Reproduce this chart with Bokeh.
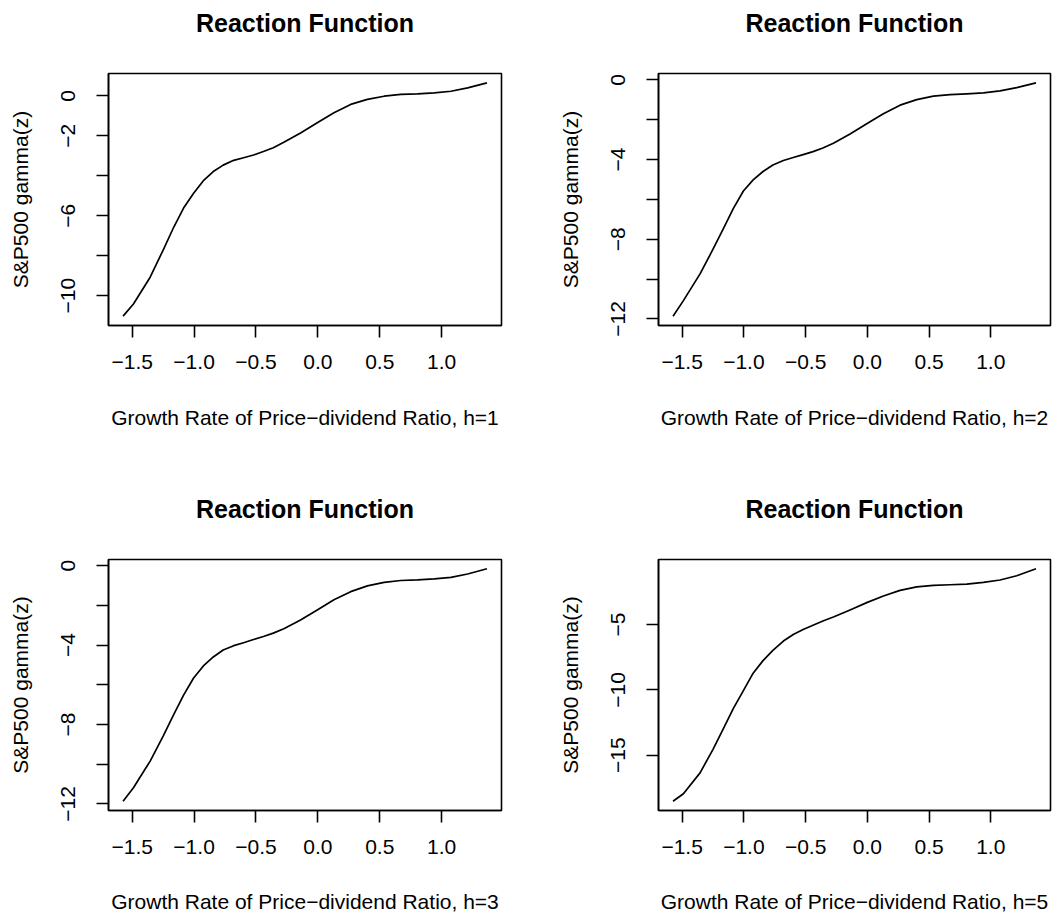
from bokeh.plotting import figure
from bokeh.layouts import column, row
from bokeh.models import FixedTicker, Range1d, LinearAxis
from bokeh.embed import file_html
from bokeh.resources import INLINE

# ---- data ----
x = [-1.574, -1.49, -1.355, -1.25, -1.165, -1.085, -1.004, -0.925, -0.845, -0.765,
     -0.68, -0.6, -0.52, -0.44, -0.36, -0.275, -0.14, -0.005, 0.13, 0.265,
     0.4, 0.535, 0.67, 0.805, 0.94, 1.075, 1.21, 1.366]

y_h1 = [-11.03, -10.42, -9.08, -7.72, -6.58, -5.62, -4.88, -4.25, -3.79, -3.47,
        -3.23, -3.10, -2.96, -2.79, -2.60, -2.33, -1.86, -1.35, -0.85, -0.43,
        -0.18, -0.02, 0.07, 0.10, 0.15, 0.23, 0.40, 0.65]
y_h2 = [-11.86, -11.08, -9.74, -8.50, -7.45, -6.45, -5.58, -5.02, -4.60, -4.27,
        -4.05, -3.90, -3.75, -3.60, -3.42, -3.18, -2.72, -2.20, -1.70, -1.27,
        -0.99, -0.82, -0.74, -0.70, -0.65, -0.55, -0.39, -0.15]
y_h3 = [-11.86, -11.18, -9.84, -8.58, -7.50, -6.52, -5.66, -5.05, -4.60, -4.25,
        -4.03, -3.88, -3.72, -3.57, -3.40, -3.18, -2.74, -2.23, -1.72, -1.31,
        -1.02, -0.84, -0.75, -0.72, -0.67, -0.59, -0.42, -0.16]
y_h5 = [-18.52, -17.95, -16.35, -14.55, -12.95, -11.42, -10.05, -8.72, -7.76, -6.98,
        -6.26, -5.76, -5.38, -5.05, -4.72, -4.42, -3.88, -3.32, -2.81, -2.38,
        -2.12, -2.00, -1.95, -1.90, -1.77, -1.59, -1.26, -0.73]

x_ticks = [-1.5, -1.0, -0.5, 0.0, 0.5, 1.0]
x_tick_labels = ["\u22121.5", "\u22121.0", "\u22120.5", "0.0", "0.5", "1.0"]

y_ticks_h1 = [0, -2, -4, -6, -8, -10]
y_labels_h1 = ["0", "\u22122", "", "\u22126", "", "\u221210"]
y_ticks_h23 = [0, -2, -4, -6, -8, -10, -12]
y_labels_h23 = ["0", "", "\u22124", "", "\u22128", "", "\u221212"]
y_ticks_h5 = [-5, -10, -15]
y_labels_h5 = ["\u22125", "\u221210", "\u221215"]

title_text = "Reaction Function"
y_axis_title = "S&P500 gamma(z)"
x_axis_titles = ["Growth Rate of Price\u2212dividend Ratio, h=1",
                 "Growth Rate of Price\u2212dividend Ratio, h=2",
                 "Growth Rate of Price\u2212dividend Ratio, h=3",
                 "Growth Rate of Price\u2212dividend Ratio, h=5"]

FONT = "Liberation Sans"


def padded(v):
    lo, hi = min(v), max(v)
    pad = 0.04 * (hi - lo)
    return Range1d(lo - pad, hi + pad)


def make(yv, xlab, yticks, ylabels, w, h, left, right, top, bottom, xlab_standoff):
    p = figure(width=w, height=h, output_backend="svg", toolbar_location=None,
               x_range=padded(x), y_range=padded(yv),
               min_border_left=left, min_border_right=right,
               min_border_top=top, min_border_bottom=bottom)
    p.line(x, yv, line_color="black", line_width=1.7, line_join="round")
    p.grid.visible = False
    p.background_fill_color = "white"
    p.border_fill_color = "white"
    p.outline_line_color = "black"
    p.outline_line_width = 1.6

    xa = p.below[0]
    ya = p.left[0]

    # title drawn as the label of an empty axis above the frame
    ta = LinearAxis(ticker=FixedTicker(ticks=[]), axis_label=title_text)
    ta.axis_line_color = None
    ta.major_tick_line_color = None
    ta.minor_tick_line_color = None
    ta.major_tick_out = 0
    ta.major_tick_in = 0
    ta.major_label_standoff = 0
    ta.axis_label_standoff = 37
    ta.axis_label_text_font = FONT
    ta.axis_label_text_font_size = "25px"
    ta.axis_label_text_font_style = "bold"
    ta.axis_label_text_color = "black"
    p.add_layout(ta, "above")

    xa.ticker = FixedTicker(ticks=x_ticks)
    xa.major_label_overrides = {float(k): s for k, s in zip(x_ticks, x_tick_labels)}
    xa.axis_label = xlab
    ya.ticker = FixedTicker(ticks=yticks)
    ya.major_label_overrides = {float(k): s for k, s in zip(yticks, ylabels)}
    ya.major_label_orientation = "vertical"
    ya.axis_label = y_axis_title

    for ax in (xa, ya):
        ax.minor_tick_line_color = None
        ax.major_tick_in = 0
        ax.major_tick_out = 12
        ax.major_tick_line_width = 1.6
        ax.axis_line_width = 1.6
        ax.axis_line_color = "black"
        ax.major_label_text_font = FONT
        ax.major_label_text_font_size = "21px"
        ax.major_label_text_color = "black"
        ax.axis_label_text_font = FONT
        ax.axis_label_text_font_size = "21px"
        ax.axis_label_text_font_style = "normal"
        ax.axis_label_text_color = "black"
    xa.major_label_standoff = 17
    xa.axis_label_standoff = xlab_standoff
    ya.major_label_standoff = 21
    ya.axis_label_standoff = 27
    return p


p1 = make(y_h1, x_axis_titles[0], y_ticks_h1, y_labels_h1, 528, 457, 108, 27, 73, 132, 34)
p2 = make(y_h2, x_axis_titles[1], y_ticks_h23, y_labels_h23, 529, 457, 130, 7, 73, 132, 34)
p3 = make(y_h3, x_axis_titles[2], y_ticks_h23, y_labels_h23, 528, 458, 108, 27, 102, 104, 33)
p4 = make(y_h5, x_axis_titles[3], y_ticks_h5, y_labels_h5, 529, 458, 130, 7, 102, 104, 33)

layout = column(row(p1, p2), row(p3, p4))
open("out.html", "w").write(file_html(layout, INLINE))
